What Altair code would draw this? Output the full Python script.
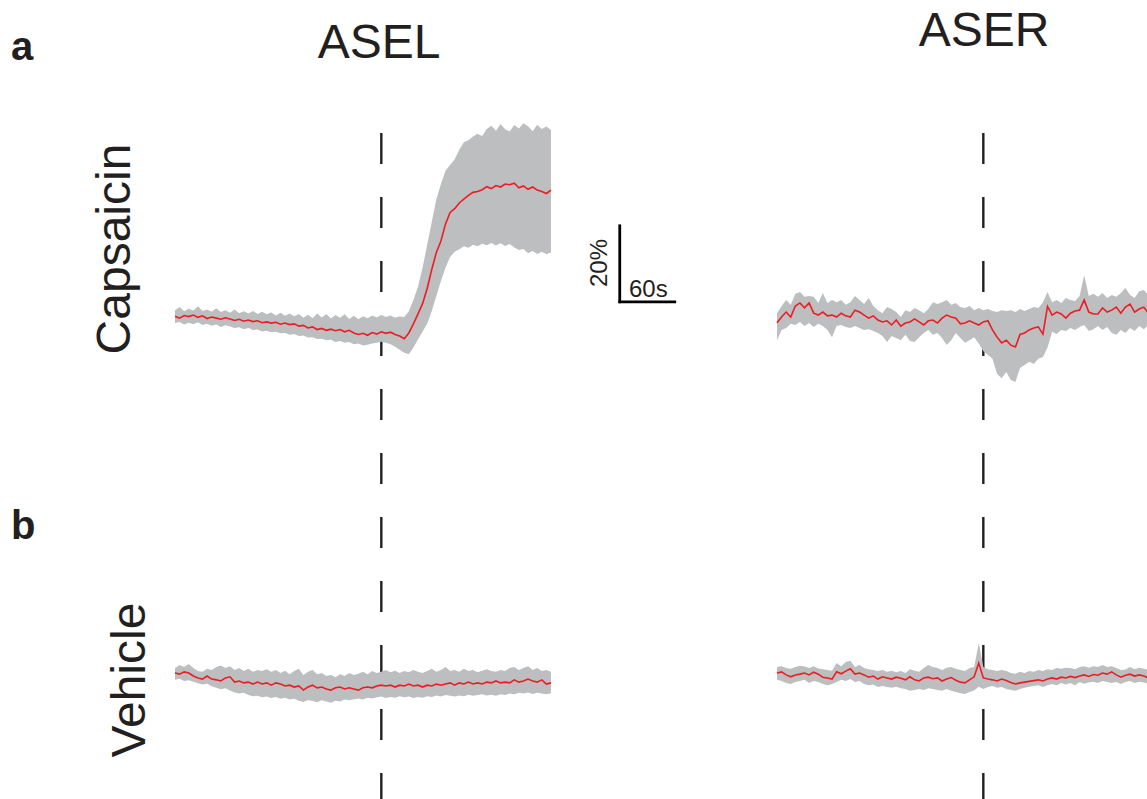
import altair as alt
import pandas as pd

# ---------------------------------------------------------------- data
# sample times (s) for every trace; stimulus onset marked by the dashed line
time_s = list(range(0, 411, 5))
STIM_S = 225

neuron_names = ["ASEL", "ASER"]
treatment_names = ["Capsaicin", "Vehicle"]
panel_letters = ["a", "b"]

# scale bar lengths
SCALE_S = 60
SCALE_PCT = 20

# ΔF/F (%) — mean and shaded band (lower / upper), ASEL, capsaicin
asel_caps_mean = [
    0.2, -0.3, 0.4, 0.1, 0.5, -0.1, 0.3, -0.4, 0.0, -0.3,
    -0.6, -0.2, -0.5, -0.9, -0.6, -1.1, -0.8, -1.2, -1.0, -1.5,
    -1.3, -1.6, -1.4, -1.9, -1.6, -2.0, -1.8, -2.4, -2.2, -2.9,
    -2.6, -3.3, -3.0, -3.5, -3.2, -3.6, -3.3, -3.9, -3.5, -4.2,
    -4.6, -4.3, -4.8, -4.1, -4.5, -3.9, -4.3, -4.0, -4.6, -5.0,
    -5.7, -4.2, -1.8, 0.8, 3.5, 7.5, 12.5, 17.0, 20.0, 24.5,
    27.5, 28.5, 30.0, 31.0, 32.0, 32.8, 33.0, 33.5, 34.3, 33.8,
    34.6, 34.2, 35.0, 34.8, 35.2, 34.0, 34.5, 33.6, 34.2, 33.4,
    33.0, 32.5, 33.4,
]
asel_caps_lo = [
    -1.6, -1.3, -2.0, -1.5, -1.9, -1.4, -2.1, -1.8, -2.3, -2.0,
    -2.6, -2.2, -2.5, -2.9, -2.7, -3.2, -2.9, -3.4, -3.3, -3.8,
    -3.6, -4.0, -3.9, -4.3, -4.2, -4.7, -4.5, -5.0, -4.9, -5.4,
    -5.3, -5.8, -5.7, -6.1, -6.0, -6.6, -6.3, -6.8, -6.6, -7.2,
    -7.0, -7.5, -7.3, -7.0, -6.8, -6.5, -6.8, -7.2, -7.8, -8.6,
    -9.4, -9.8, -8.0, -5.9, -3.8, -1.8, 1.6, 5.5, 9.5, 13.0,
    15.8, 17.2, 17.8, 18.6, 18.2, 19.0, 18.6, 19.3, 18.9, 19.5,
    18.8, 19.4, 18.7, 19.2, 18.3, 17.6, 17.9, 16.8, 17.4, 16.6,
    17.2, 16.5, 17.0,
]
asel_caps_hi = [
    1.8, 2.6, 1.5, 2.2, 1.7, 2.8, 1.6, 2.0, 1.4, 2.3,
    1.3, 1.8, 1.1, 2.0, 1.0, 1.5, 0.9, 1.6, 0.8, 1.4,
    0.7, 1.2, 0.4, 1.1, 0.3, 0.9, 0.2, 0.8, -0.2, 0.6,
    -0.3, 0.9, -0.1, 0.8, -0.4, 0.5, -0.2, 0.7, -0.5, 0.3,
    -0.6, 0.2, -0.3, 0.4, -0.1, 0.5, 0.0, 0.4, -0.2, 0.1,
    0.0, 1.5, 4.5, 8.0, 13.0, 19.0, 25.0, 31.0, 35.0, 38.5,
    40.0, 41.5, 44.0, 46.0, 46.5, 47.5, 48.2, 47.6, 49.5, 50.3,
    49.0, 50.8, 49.4, 48.8, 50.5, 49.6, 51.0, 50.2, 48.9, 50.6,
    49.5, 50.1, 49.2,
]

# ASER, capsaicin
aser_caps_mean = [
    -1.5, 0.0, 1.3, 0.0, 2.9, 3.7, 2.4, 3.7, 1.0, 0.5,
    1.3, 0.3, 0.5, 0.0, 1.0, 0.3, 0.0, 1.8, 1.3, 0.5,
    -0.3, 0.3, -0.8, -1.3, -1.0, -2.1, -0.8, -2.4, -1.6, -1.3,
    -0.5, -1.3, -2.1, -1.0, -0.8, -1.6, -0.3, 0.5, 0.0, -0.3,
    -1.8, -1.6, -1.0, -1.6, -2.1, -1.3, -1.0, -3.4, -5.3, -6.8,
    -6.1, -7.4, -7.9, -4.6, -4.2, -3.4, -2.9, -2.6, -4.5, 2.8,
    0.5, 1.3, 0.8, -0.3, 1.0, 1.6, 1.8, 4.5, 1.3, 0.8,
    0.8, 2.4, 1.3, 1.8, 2.6, 1.0, 2.6, 3.4, 1.3, 2.1,
    2.6, 1.0, 1.8,
]
aser_caps_lo = [
    -6.1, -3.4, -2.9, -1.8, -2.1, -1.3, -2.4, -1.6, -2.6, -1.8,
    -2.4, -3.4, -5.3, -2.4, -2.1, -2.6, -2.9, -2.4, -2.9, -3.4,
    -3.2, -3.7, -4.2, -5.0, -6.6, -5.0, -5.5, -6.1, -4.7, -6.3,
    -6.6, -5.3, -4.2, -3.4, -4.7, -4.2, -5.5, -7.4, -6.1, -4.2,
    -5.5, -6.8, -6.1, -5.3, -7.0, -9.0, -10.0, -11.0, -15.0, -16.1,
    -14.5, -16.6, -17.1, -13.4, -12.6, -11.8, -12.4, -11.0, -10.5, -8.0,
    -3.9, -4.5, -3.4, -3.7, -2.9, -3.4, -2.6, -2.1, -3.7, -3.2,
    -2.4, -3.4, -2.6, -4.2, -4.7, -3.4, -4.2, -2.9, -3.7, -2.4,
    -3.2, -2.1, -2.6,
]
aser_caps_hi = [
    1.0, 2.9, 4.5, 3.2, 6.1, 6.6, 5.3, 5.5, 5.3, 3.7,
    6.3, 3.7, 4.5, 3.9, 4.5, 3.2, 3.9, 5.5, 4.5, 3.4,
    5.0, 2.9, 1.8, 1.0, 2.6, 2.1, 1.3, 0.0, 1.8, 1.3,
    2.4, 1.8, 1.0, 2.1, 3.9, 3.4, 3.9, 4.5, 3.2, 3.7,
    2.6, 2.4, 2.9, 1.8, 2.4, 1.8, 2.1, 1.6, 1.3, 1.8,
    1.6, 1.8, 1.3, 2.1, 1.6, 2.1, 2.6, 2.4, 3.9, 6.6,
    3.9, 4.5, 3.7, 5.0, 4.5, 4.2, 5.5, 11.0, 5.5, 6.1,
    5.3, 6.3, 5.0, 5.8, 5.3, 6.3, 7.6, 5.8, 5.0, 6.8,
    7.1, 5.8, 6.1,
]

# ASEL, vehicle
asel_veh_mean = [
    0.0, -0.3, 0.3, 0.0, -0.8, -1.3, -1.6, -0.8, -1.6, -1.8,
    -2.1, -1.3, -1.0, -2.4, -2.1, -2.6, -2.4, -2.9, -2.4, -2.9,
    -2.6, -3.2, -2.6, -2.9, -3.4, -3.2, -3.7, -3.4, -4.5, -3.7,
    -3.2, -3.9, -3.7, -4.2, -4.5, -3.9, -3.7, -4.2, -3.9, -4.2,
    -4.5, -3.9, -3.7, -3.9, -3.4, -3.2, -3.4, -3.2, -3.7, -3.2,
    -3.4, -2.9, -3.4, -3.2, -3.7, -3.2, -3.4, -2.9, -3.2, -2.9,
    -2.6, -3.2, -2.6, -2.9, -2.4, -2.9, -2.6, -2.9, -2.4, -2.6,
    -2.1, -2.6, -2.4, -2.6, -1.8, -2.4, -2.1, -1.6, -2.1, -2.4,
    -1.8, -2.9, -2.6,
]
asel_veh_lo = [
    -1.8, -1.5, -2.1, -1.9, -2.3, -2.7, -3.0, -2.8, -3.5, -3.9,
    -4.3, -4.0, -4.6, -5.1, -5.4, -5.2, -5.8, -6.1, -6.0, -6.4,
    -6.2, -6.6, -6.3, -6.8, -6.5, -7.0, -6.8, -7.3, -7.6, -7.1,
    -7.4, -7.7, -7.2, -7.5, -7.8, -7.3, -7.5, -7.0, -7.2, -6.9,
    -6.7, -7.0, -6.5, -6.7, -6.4, -6.2, -6.6, -6.3, -6.5, -6.1,
    -6.4, -6.2, -6.6, -6.3, -6.5, -6.1, -6.3, -5.9, -6.2, -5.8,
    -6.0, -6.2, -5.9, -6.1, -5.7, -6.0, -5.8, -5.6, -5.9, -5.7,
    -6.0, -5.6, -5.8, -5.4, -5.6, -5.2, -5.4, -5.1, -5.5, -5.2,
    -5.4, -5.6, -5.3,
]
asel_veh_hi = [
    1.3, 2.1, 1.6, 2.4, 1.3, 0.5, 0.3, 1.1, 0.8, 1.6,
    2.0, 1.3, 1.8, 0.8, 1.3, 0.5, 1.1, 0.3, 0.8, 0.5,
    1.0, 0.3, 0.8, 0.0, 0.6, -0.3, 0.5, 1.1, -0.5, 0.3,
    0.8, -0.3, 0.0, -0.8, -0.5, -1.1, -0.3, -0.8, 0.0, -0.5,
    -0.2, 0.3, -0.3, 0.5, 0.0, 0.3, 0.8, 0.2, 0.6, 0.0,
    0.5, 0.2, 0.8, 0.3, 0.0, 0.5, 1.1, 0.3, 0.8, 1.6,
    0.5, 0.8, 0.3, 1.1, 0.5, 0.8, 0.2, 0.6, 1.0, 0.5,
    0.3, 0.8, 0.5, 1.3, 1.6, 0.8, 1.3, 1.8, 0.8, 1.3,
    0.5, 0.8, 0.3,
]

# ASER, vehicle
aser_veh_mean = [
    0.0, 0.3, -0.5, -1.0, -0.5, -0.3, 0.0, -0.5, 0.2, -0.3,
    -1.1, -1.3, -1.6, 0.3, -0.2, 0.5, 1.1, -0.3, 0.0, -0.5,
    -1.1, -0.8, -1.6, -1.0, -1.3, -1.6, -1.1, -1.4, -1.8, -1.0,
    -1.8, -2.1, -1.3, -1.1, -1.5, -1.3, -2.1, -1.6, -1.2, -1.9,
    -2.4, -2.6, -1.8, -1.0, 2.6, -1.3, -1.6, -1.8, -2.1, -1.6,
    -2.0, -2.5, -2.9, -2.6, -2.4, -2.2, -2.0, -1.8, -2.1, -1.6,
    -1.3, -1.6, -1.1, -1.3, -0.9, -1.2, -0.8, -0.5, -0.9, -0.4,
    -0.6, 0.0, -0.3, 0.3, -0.5, -1.1, -0.6, -0.3, -0.8, -0.5,
    -0.8, -1.3, -1.0,
]
aser_veh_lo = [
    -1.8, -2.1, -2.6, -2.9, -2.4, -2.1, -1.8, -2.6, -2.1, -2.4,
    -2.9, -3.2, -2.9, -2.4, -1.8, -2.1, -1.6, -2.4, -2.1, -2.9,
    -3.2, -3.0, -3.7, -3.4, -3.7, -3.9, -3.6, -4.0, -4.2, -4.7,
    -4.5, -4.2, -4.5, -4.0, -4.2, -4.5, -4.7, -4.2, -4.7, -5.0,
    -5.3, -5.5, -5.0, -4.6, -3.6, -4.2, -3.7, -3.4, -3.9, -3.7,
    -4.2, -4.5, -4.7, -4.2, -3.9, -3.6, -3.4, -3.2, -3.7, -3.2,
    -2.9, -3.2, -2.6, -3.0, -2.6, -3.2, -2.4, -2.8, -2.5, -2.3,
    -2.6, -2.1, -2.4, -2.6, -2.4, -2.9, -2.4, -2.1, -2.6, -2.3,
    -2.5, -2.9, -2.6,
]
aser_veh_hi = [
    1.6, 1.8, 1.3, 1.1, 1.6, 1.9, 1.7, 1.3, 1.8, 1.2,
    1.0, 0.8, 0.6, 2.6, 1.8, 2.9, 3.2, 1.6, 2.1, 1.3,
    1.0, 0.8, 0.5, 0.8, 0.3, 0.6, 0.2, 0.5, 0.0, 1.0,
    0.6, 0.3, 1.3, 2.1, 1.6, 1.3, 0.8, 1.4, 1.6, 1.1,
    0.8, 0.5, 1.3, 1.6, 7.9, 1.6, 1.0, 0.8, 0.5, 0.8,
    0.5, 0.0, -0.2, 0.3, 0.0, 0.5, 0.3, 0.8, 0.5, 1.0,
    0.8, 1.3, 1.1, 1.4, 1.3, 1.0, 1.6, 1.8, 1.4, 1.8,
    1.6, 2.1, 1.6, 1.8, 1.3, 0.8, 0.9, 1.6, 1.0, 1.4,
    1.1, 0.8, 1.2,
]

# ---------------------------------------------------------------- layout / style
W, H = 1147, 799
FONT = "Liberation Sans"
GREY = "#bcbec0"
RED = "#ed1c24"
INK = "#231f20"

PX_PER_S = 0.917          # horizontal: pixels per second
PX_PER_PCT = 3.8          # vertical: pixels per % ΔF/F
COL_LEFT = [175, 777]     # left edge of each column's time axis
ROW_ZERO = [317, 673]     # pixel row of 0 % for each treatment row
T_MAX = time_s[-1]

# scale-bar corner, in the ASEL/capsaicin panel's data units
SB_T, SB_PCT = 485, 4


def x_enc(field, col):
    left = COL_LEFT[col]
    return alt.X(field, type="quantitative", axis=None,
                 scale=alt.Scale(domain=[0, T_MAX], range=[left, left + T_MAX * PX_PER_S]))


def y_enc(field, row):
    zero = ROW_ZERO[row]
    return alt.Y(field, type="quantitative", axis=None,
                 scale=alt.Scale(domain=[-20, 60], zero=False, nice=False,
                                 range=[zero + 20 * PX_PER_PCT, zero - 60 * PX_PER_PCT]))


def trace_panel(mean, lo, hi, col, row, extra=()):
    df = pd.DataFrame({"t": time_s, "mean": mean, "lo": lo, "hi": hi})
    base = alt.Chart(df)
    band = base.mark_area(color=GREY, opacity=1).encode(
        x=x_enc("t", col), y=y_enc("lo", row), y2="hi")
    line = base.mark_line(color=RED, strokeWidth=1.6, strokeJoin="miter").encode(
        x=x_enc("t", col), y=y_enc("mean", row))
    return alt.layer(*extra, band, line)


def stim_rule(col):
    return alt.Chart(pd.DataFrame({"t": [STIM_S]})).mark_rule(
        color=INK, strokeWidth=2.4, strokeDash=[31, 33]
    ).encode(x=x_enc("t", col), y=alt.value(133), y2=alt.value(H))


scale_bar = alt.Chart(pd.DataFrame({
    "t1": [SB_T, SB_T],
    "t2": [SB_T + SCALE_S, SB_T],
    "p1": [SB_PCT, SB_PCT],
    "p2": [SB_PCT, SB_PCT + SCALE_PCT],
})).mark_rule(color="black", strokeWidth=2.8, strokeCap="square").encode(
    x=x_enc("t1", 0), x2="t2", y=y_enc("p1", 0), y2="p2")

panels = [
    trace_panel(asel_caps_mean, asel_caps_lo, asel_caps_hi, 0, 0,
                extra=(stim_rule(0), scale_bar)),
    trace_panel(aser_caps_mean, aser_caps_lo, aser_caps_hi, 1, 0,
                extra=(stim_rule(1),)),
    trace_panel(asel_veh_mean, asel_veh_lo, asel_veh_hi, 0, 1),
    trace_panel(aser_veh_mean, aser_veh_lo, aser_veh_hi, 1, 1),
]


def label(text, x, y, size, weight="normal", angle=0, align="center"):
    return alt.Chart(pd.DataFrame({"label": [text]})).mark_text(
        font=FONT, fontSize=size, fontWeight=weight, angle=angle,
        align=align, baseline="alphabetic", color=INK,
    ).encode(x=alt.value(x), y=alt.value(y), text="label:N")


labels = [
    label(panel_letters[0], 11, 60, 40, weight="bold", align="left"),
    label(panel_letters[1], 11, 539, 40, weight="bold", align="left"),
    label(neuron_names[0], 379, 58, 48),
    label(neuron_names[1], 984, 46, 48),
    label(treatment_names[0], 130, 249, 48, angle=270),
    label(treatment_names[1], 145, 680, 48, angle=270),
    label(f"{SCALE_PCT}%", 607, 263, 24, angle=270),
    label(f"{SCALE_S}s", 629, 297, 24, align="left"),
]

chart = alt.layer(*panels, *labels).resolve_scale(
    x="independent", y="independent"
).properties(
    width=W, height=H, padding=0,
    autosize=alt.AutoSizeParams(type="none"),
    background="white",
).configure_view(stroke=None)

chart.save("out.html", embed_options={"renderer": "svg", "actions": False})
